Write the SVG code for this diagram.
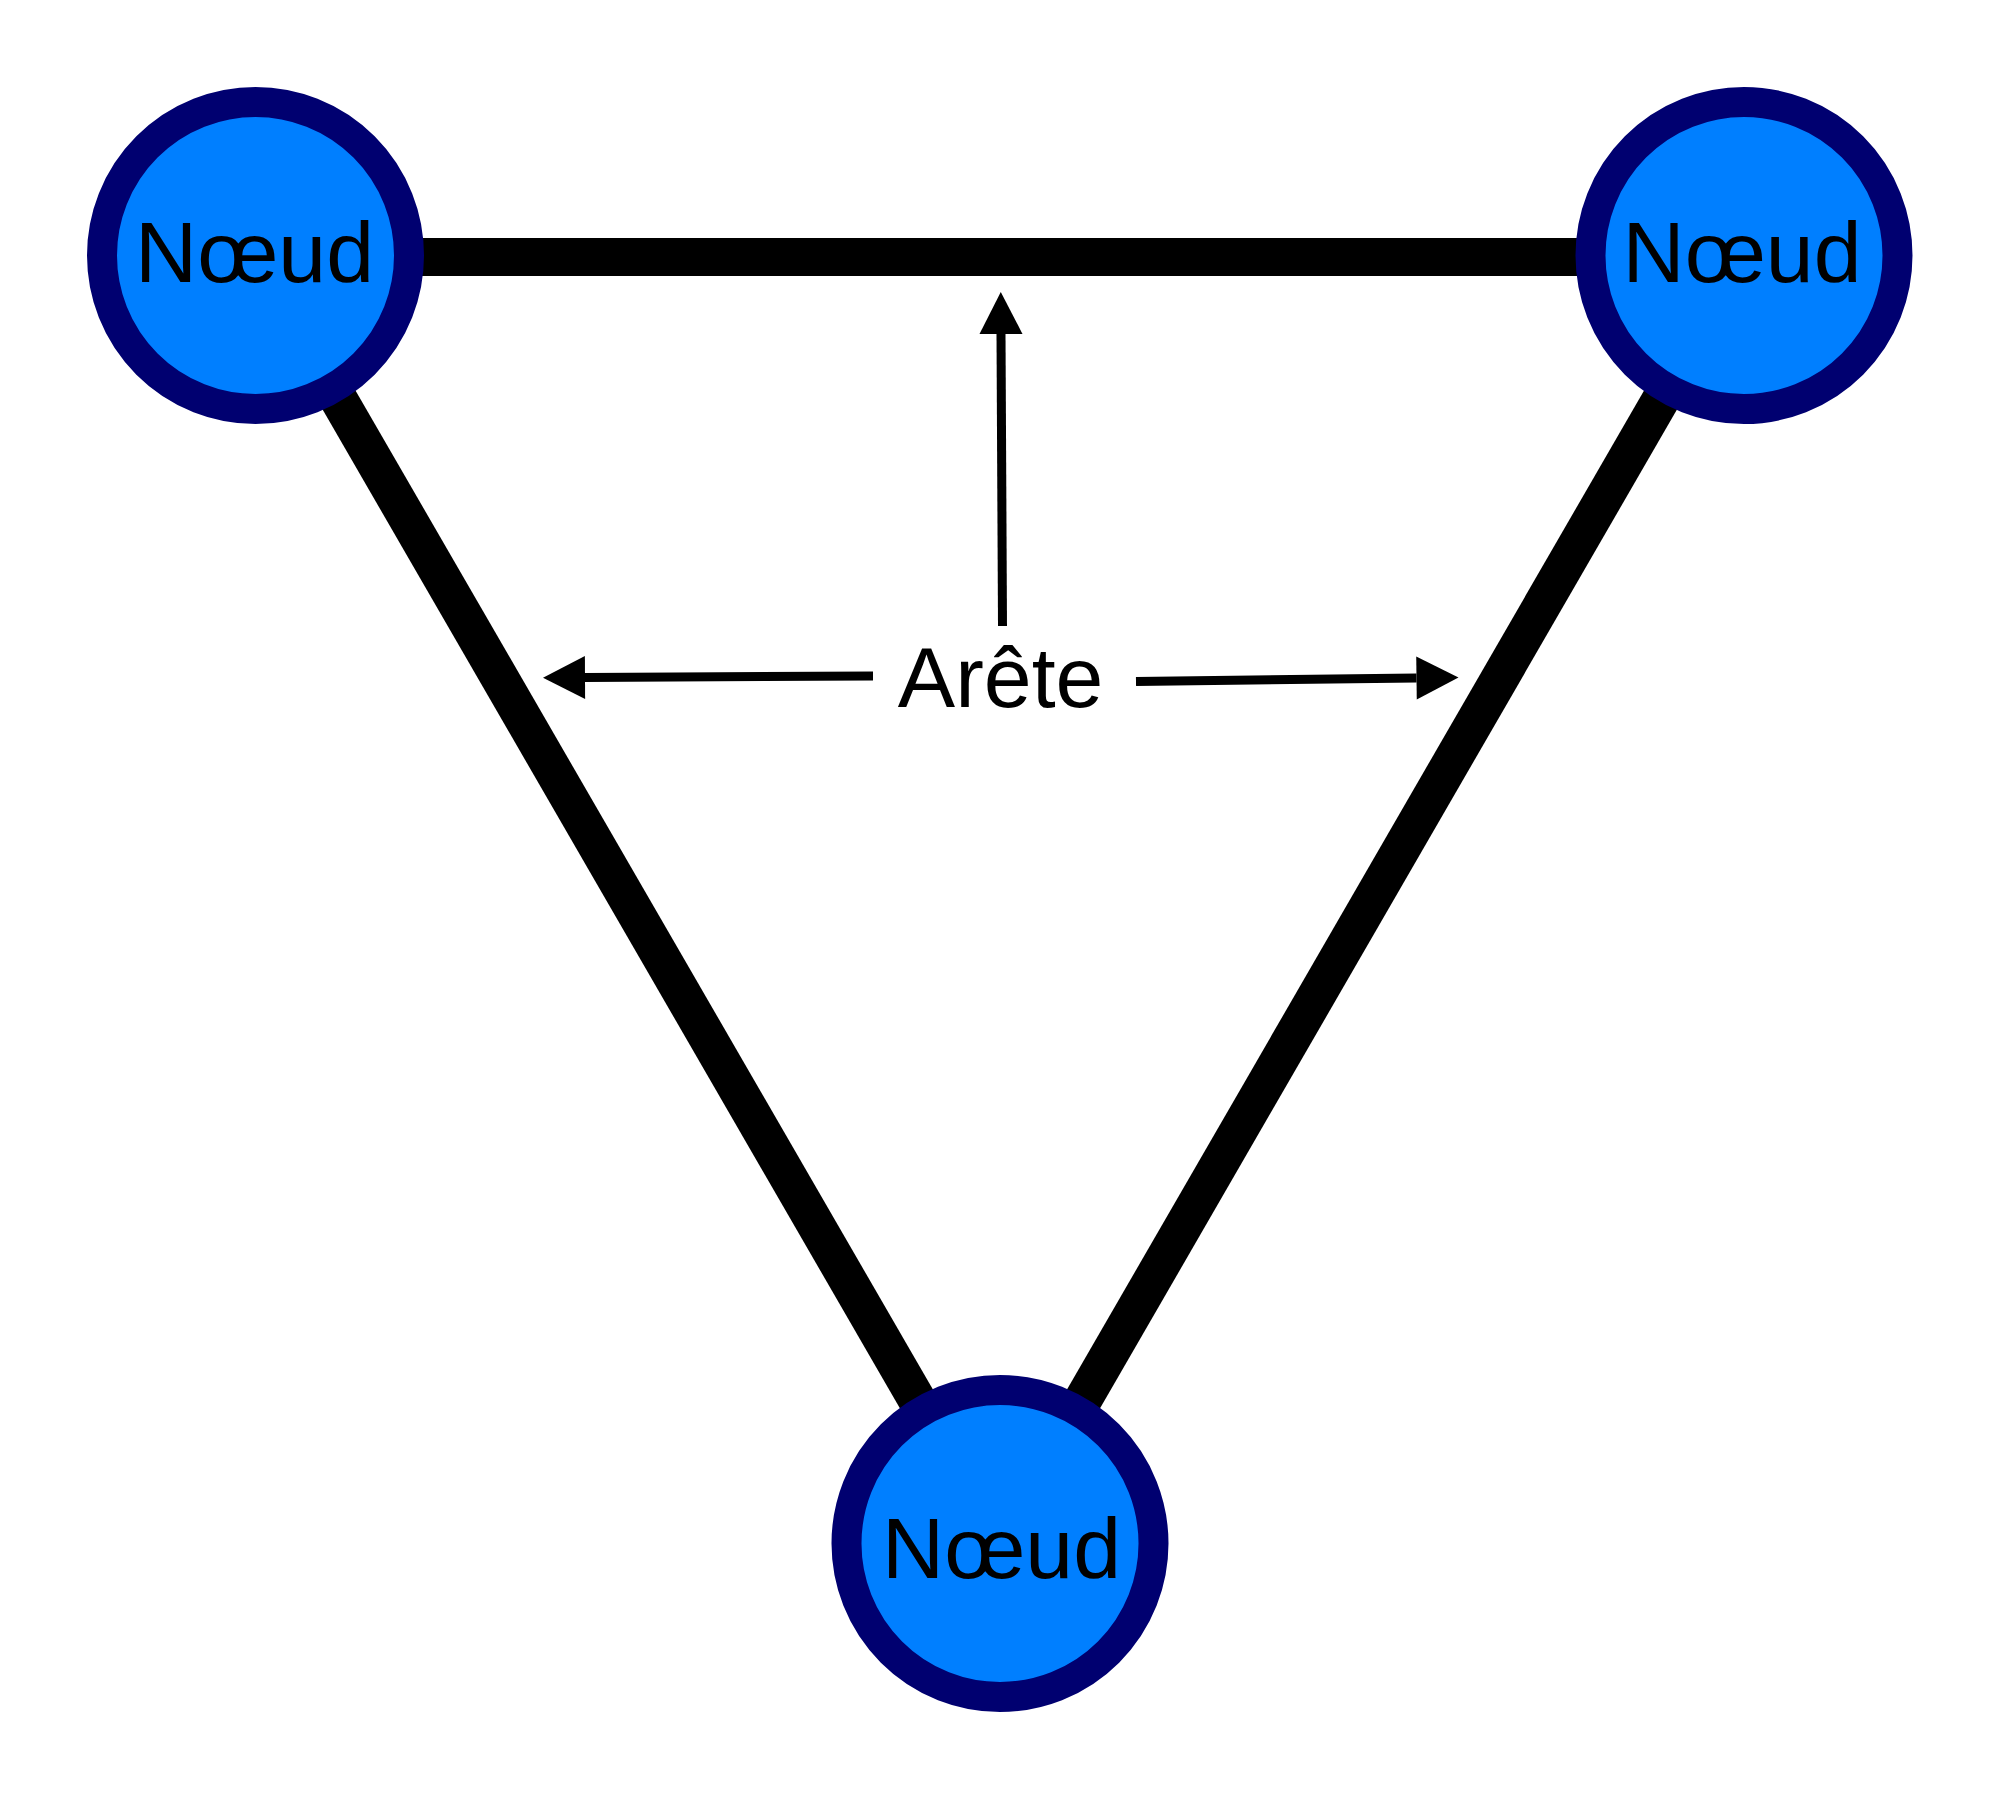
<svg xmlns="http://www.w3.org/2000/svg" width="2000" height="1800" viewBox="0 0 2000 1800">
  <style>
    .edge { stroke: #000000; stroke-width: 38; fill: none; }
    .arrow { stroke: #000000; stroke-width: 9; fill: none; marker-end: url(#head); }
    .node circle { fill: #007fff; stroke: #000070; stroke-width: 30; }
    .label { font-family: "Liberation Sans", Arial, sans-serif; font-size: 86px; fill: #000000; text-anchor: middle; }
  </style>
  <defs>
    <marker id="head" markerUnits="userSpaceOnUse" markerWidth="44" markerHeight="44" refX="0" refY="21.5" orient="auto" viewBox="0 0 44 43" overflow="visible">
      <path d="M0,0 L42,21.5 L0,43 Z" fill="#000000"/>
    </marker>
  </defs>
  <rect width="2000" height="1800" fill="#ffffff"/>
  <g id="connectors">
    <line class="edge" x1="255.5" y1="257" x2="1744" y2="257"/>
    <line class="edge" x1="255.5" y1="255.5" x2="1000" y2="1543.5"/>
    <line class="edge" x1="1744" y1="255.5" x2="1000" y2="1543.5"/>
    <line class="arrow" x1="1002.5" y1="626" x2="1001" y2="334"/>
    <line class="arrow" x1="873" y1="676" x2="585" y2="677.5"/>
    <line class="arrow" x1="1136" y1="681.5" x2="1416.5" y2="678"/>
  </g>
  <g id="node-top-left" class="node">
    <circle cx="255.5" cy="255.5" r="153.5"/>
    <text class="label" x="254.5" y="281.7">Nœud</text>
  </g>
  <g id="node-top-right" class="node">
    <circle cx="1744" cy="255.5" r="153.5"/>
    <text class="label" x="1742" y="281.7">Nœud</text>
  </g>
  <g id="node-bottom" class="node">
    <circle cx="1000" cy="1543.5" r="153.5"/>
    <text class="label" x="1001.5" y="1578.3">Nœud</text>
  </g>
  <g id="edge-label">
    <text class="label" x="1000.6" y="706.7">Arête</text>
  </g>
</svg>
